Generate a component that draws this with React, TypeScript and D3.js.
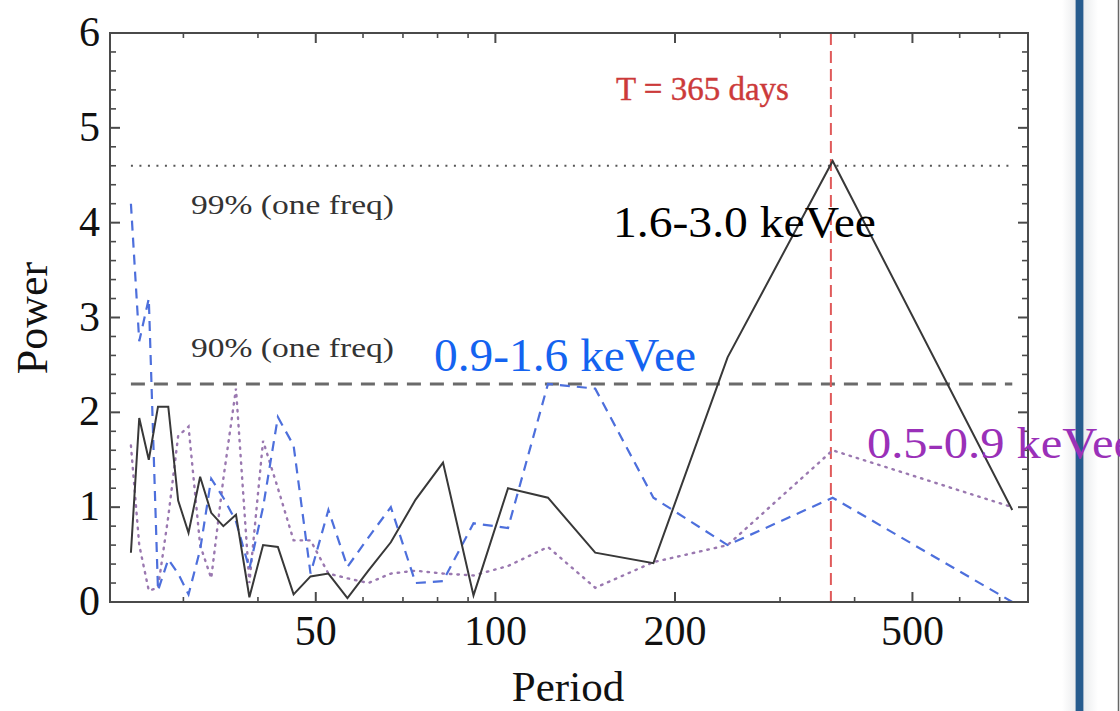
import React from "react";
import * as d3 from "d3";

// Periods (days) of the periodogram frequencies
const periods = [
  24.5, 25.3, 26.25, 27.2, 28.3, 29.4, 30.6, 32.0, 33.4, 35.0, 36.75, 38.7, 40.8,
  43.2, 45.9, 49.0, 52.5, 56.5, 61.25, 66.8, 73.5, 81.7, 91.9, 105, 122.5, 147,
  184, 245, 367.5, 735,
];

// Lomb-Scargle power per energy band
const powerHigh = [
  0.52, 1.94, 1.5, 2.06, 2.06, 1.07, 0.73, 1.32, 0.94, 0.8, 0.92, 0.05, 0.6,
  0.58, 0.08, 0.27, 0.3, 0.04, 0.33, 0.63, 1.08, 1.47, 0.07, 1.2, 1.1, 0.52,
  0.41, 2.58, 4.65, 0.97,
];
const powerMid = [
  4.2, 2.75, 3.2, 0.12, 0.45, 0.3, 0.08, 0.55, 1.3, 1.1, 0.85, 0.35, 1.0, 1.95,
  1.65, 0.3, 0.97, 0.37, 0.68, 1.0, 0.2, 0.22, 0.83, 0.78, 2.3, 2.25, 1.1, 0.6,
  1.1, 0.0,
];
const powerLow = [
  1.65, 0.6, 0.12, 0.15, 0.9, 1.75, 1.85, 0.6, 0.25, 1.3, 2.25, 0.2, 1.7, 1.2,
  0.65, 0.65, 0.3, 0.25, 0.2, 0.3, 0.33, 0.3, 0.28, 0.38, 0.58, 0.15, 0.42, 0.6,
  1.6, 1.0,
];

const bandLabels = ["1.6-3.0 keVee", "0.9-1.6 keVee", "0.5-0.9 keVee"];

// Significance levels
const levelValues = [4.6, 2.3];
const levelLabels = ["99% (one freq)", "90% (one freq)"];

const annualPeriod = 365;
const annualLabel = "T = 365 days";

const yTicks = [0, 1, 2, 3, 4, 5, 6];
const xMajorTicks = [50, 100, 200, 500];
const xMinorTicks = [30, 40, 60, 70, 80, 90, 300, 400, 600, 700];

const W = 1120;
const H = 711;
const left = 110;
const right = 1028;
const top = 33;
const bottom = 602;
const serif = "'Liberation Serif', 'Times New Roman', serif";

export default function App() {
  const x = d3.scaleLog().domain([22.6, 781]).range([left, right]);
  const y = d3.scaleLinear().domain([0, 6]).range([bottom, top]);

  const yMinor = d3.range(0, 6.001, 0.2).filter((v) => Math.abs(v - Math.round(v)) > 0.01);

  const mk = (vals: number[]) =>
    d3
      .line<number>()
      .x((_, i) => x(periods[i]))
      .y((v) => y(v))(vals) as string;

  const pStart = x(periods[0]);
  const pEnd = x(periods[periods.length - 1]);

  return (
    <svg
      width={W}
      height={H}
      style={{ position: "absolute", left: 0, top: 0, background: "#fff" }}
      fontFamily={serif}
    >
      <defs>
        <linearGradient id="barShade" x1="0" x2="1" y1="0" y2="0">
          <stop offset="0" stopColor="#ffffff" />
          <stop offset="0.5" stopColor="#e6e8ea" />
          <stop offset="1" stopColor="#ffffff" />
        </linearGradient>
      </defs>
      <rect width={W} height={H} fill="#ffffff" />

      {/* side panel divider */}
      <rect x={1062} y={0} width={36} height={H} fill="url(#barShade)" />
      <rect x={1075} y={0} width={9} height={H} fill="#9fb3c8" />
      <rect x={1076} y={0} width={7} height={H} fill="#275c8e" />
      <line x1={1118.5} x2={1118.5} y1={0} y2={H} stroke="#666" strokeWidth={1.5} />

      {/* significance levels */}
      <line
        x1={pStart}
        x2={pEnd}
        y1={y(levelValues[0])}
        y2={y(levelValues[0])}
        stroke="#555"
        strokeWidth={2}
        strokeDasharray="2,6.5"
      />
      <line
        x1={pStart}
        x2={pEnd}
        y1={y(levelValues[1])}
        y2={y(levelValues[1])}
        stroke="#6a6a6a"
        strokeWidth={3}
        strokeDasharray="14,9"
      />

      {/* annual period marker */}
      <line
        x1={x(annualPeriod)}
        x2={x(annualPeriod)}
        y1={top}
        y2={bottom}
        stroke="#e05a5a"
        strokeWidth={2}
        strokeDasharray="12,6"
      />

      {/* series */}
      <path
        d={mk(powerLow)}
        fill="none"
        stroke="#9a78b0"
        strokeWidth={2.4}
        strokeDasharray="1.5,6"
        strokeLinecap="round"
      />
      <path
        d={mk(powerMid)}
        fill="none"
        stroke="#4d6fdc"
        strokeWidth={2.2}
        strokeDasharray="10,7"
      />
      <path d={mk(powerHigh)} fill="none" stroke="#383838" strokeWidth={2} strokeLinejoin="miter" />

      {/* frame */}
      <rect
        x={left}
        y={top}
        width={right - left}
        height={bottom - top}
        fill="none"
        stroke="#4a4a4a"
        strokeWidth={2}
      />

      {/* y ticks */}
      {yTicks.map((t) => (
        <g key={"yt" + t}>
          <line x1={left} x2={left + 10} y1={y(t)} y2={y(t)} stroke="#4a4a4a" strokeWidth={2} />
          <line x1={right} x2={right - 10} y1={y(t)} y2={y(t)} stroke="#4a4a4a" strokeWidth={2} />
          <text x={100} y={y(t) + 13} textAnchor="end" fontSize={42} fill="#111">
            {t}
          </text>
        </g>
      ))}
      {yMinor.map((t) => (
        <g key={"ym" + t}>
          <line x1={left} x2={left + 6} y1={y(t)} y2={y(t)} stroke="#4a4a4a" strokeWidth={1.6} />
          <line x1={right} x2={right - 6} y1={y(t)} y2={y(t)} stroke="#4a4a4a" strokeWidth={1.6} />
        </g>
      ))}

      {/* x ticks */}
      {xMajorTicks.map((t) => (
        <g key={"xt" + t}>
          <line x1={x(t)} x2={x(t)} y1={bottom} y2={bottom - 10} stroke="#4a4a4a" strokeWidth={2} />
          <line x1={x(t)} x2={x(t)} y1={top} y2={top + 10} stroke="#4a4a4a" strokeWidth={2} />
          <text x={x(t)} y={645} textAnchor="middle" fontSize={42} fill="#111">
            {t}
          </text>
        </g>
      ))}
      {xMinorTicks.map((t) => (
        <g key={"xm" + t}>
          <line x1={x(t)} x2={x(t)} y1={bottom} y2={bottom - 5} stroke="#4a4a4a" strokeWidth={1.6} />
          <line x1={x(t)} x2={x(t)} y1={top} y2={top + 5} stroke="#4a4a4a" strokeWidth={1.6} />
        </g>
      ))}

      {/* axis titles */}
      <text x={568} y={701} textAnchor="middle" fontSize={43} fill="#111">
        Period
      </text>
      <text
        transform={`translate(47, ${318}) rotate(-90)`}
        textAnchor="middle"
        fontSize={44}
        fill="#111"
      >
        Power
      </text>

      {/* level labels */}
      <text x={191} y={214} fontSize={28} fill="#333" textLength={203} lengthAdjust="spacingAndGlyphs">
        {levelLabels[0]}
      </text>
      <text x={191} y={357} fontSize={28} fill="#333" textLength={203} lengthAdjust="spacingAndGlyphs">
        {levelLabels[1]}
      </text>

      <text x={616} y={100} fontSize={33} fill="#cc3a3a" stroke="#cc3a3a" strokeWidth={0.4}>
        {annualLabel}
      </text>

      {/* band labels */}
      <text x={613} y={237} fontSize={45} fill="#000" textLength={263} lengthAdjust="spacingAndGlyphs">
        {bandLabels[0]}
      </text>
      <text x={434} y={371} fontSize={46} fill="#1463f0" textLength={262} lengthAdjust="spacingAndGlyphs">
        {bandLabels[1]}
      </text>
      <text x={867} y={458} fontSize={45} fill="#9a30b8" textLength={268} lengthAdjust="spacingAndGlyphs">
        {bandLabels[2]}
      </text>
    </svg>
  );
}
